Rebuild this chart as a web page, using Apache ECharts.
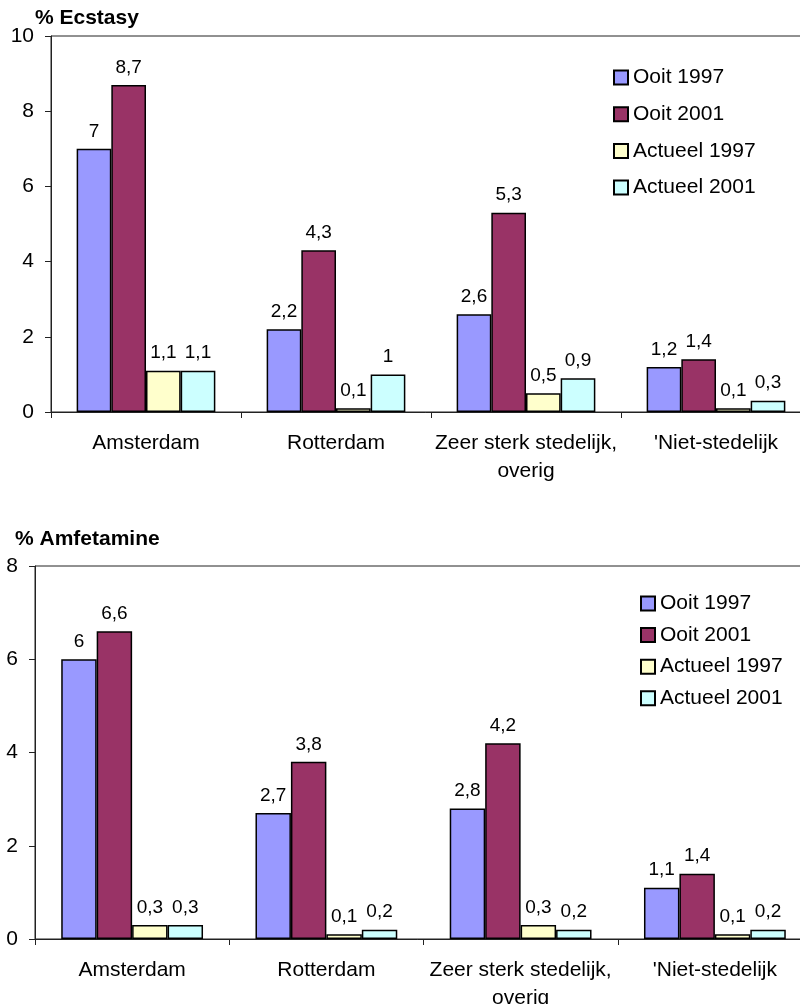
<!DOCTYPE html>
<html>
<head>
<meta charset="utf-8">
<script src="https://cdn.jsdelivr.net/npm/echarts@6/dist/echarts.min.js"></script>
<style>html,body{margin:0;padding:0;background:#fff;}#c{width:800px;height:1004px;}</style>
</head>
<body>
<div id="c"></div>
<script>
var categories = ['Amsterdam', 'Rotterdam', 'Zeer sterk stedelijk,\noverig', "'Niet-stedelijk"];
var seriesNames = ['Ooit 1997', 'Ooit 2001', 'Actueel 1997', 'Actueel 2001'];
var ecstasyOoit1997 = [7, 2.2, 2.6, 1.2];
var ecstasyOoit2001 = [8.7, 4.3, 5.3, 1.4];
var ecstasyActueel1997 = [1.1, 0.1, 0.5, 0.1];
var ecstasyActueel2001 = [1.1, 1, 0.9, 0.3];
var amfOoit1997 = [6, 2.7, 2.8, 1.1];
var amfOoit2001 = [6.6, 3.8, 4.2, 1.4];
var amfActueel1997 = [0.3, 0.1, 0.3, 0.1];
var amfActueel2001 = [0.3, 0.2, 0.2, 0.2];
var colors = ['#9999FF', '#993366', '#FFFFCC', '#CCFFFF'];

var FONT = '"Liberation Sans", Arial, sans-serif';
var AXC = '#222';

function mkSeries(name, data, idx, color) {
  return {
    name: name, type: 'bar', xAxisIndex: idx, yAxisIndex: idx,
    data: data, barGap: '0%', barCategoryGap: '27%',
    itemStyle: { color: color, borderColor: '#000', borderWidth: 1.5 },
    label: {
      show: true, position: 'top', distance: 8,
      fontFamily: FONT, fontSize: 19, color: '#000',
      formatter: function (p) { return String(p.value).replace('.', ','); }
    },
    emphasis: { disabled: true }
  };
}

function xAx(gi) {
  return {
    type: 'category', gridIndex: gi, data: categories,
    axisLine: { lineStyle: { color: AXC, width: 1 } },
    axisTick: { show: true, length: 6, lineStyle: { color: AXC } },
    axisLabel: { interval: 0, fontFamily: FONT, fontSize: 21, color: '#000', margin: 17, lineHeight: 28 }
  };
}
function yAx(gi, max) {
  return {
    type: 'value', gridIndex: gi, min: 0, max: max, interval: 2,
    splitLine: { show: false },
    axisLine: { show: true, lineStyle: { color: AXC, width: 1 } },
    axisTick: { show: true, length: 6, lineStyle: { color: AXC } },
    axisLabel: { fontFamily: FONT, fontSize: 21, color: '#000', margin: 17 }
  };
}
function legend(left, top, gap) {
  return {
    orient: 'vertical', left: left, top: top, itemGap: gap, padding: 0,
    icon: 'rect', itemWidth: 14, itemHeight: 14, itemTextGap: 5,
    data: seriesNames,
    textStyle: { fontFamily: FONT, fontSize: 21, color: '#000' },
    selectedMode: false
  };
}

var option = {
  animation: false,
  backgroundColor: '#fff',
  title: [
    { text: '% Ecstasy', left: 35, top: 8, padding: 0,
      textStyle: { fontFamily: FONT, fontSize: 21, fontWeight: 'bold', color: '#000' } },
    { text: '% Amfetamine', left: 15, top: 529, padding: 0,
      textStyle: { fontFamily: FONT, fontSize: 21, fontWeight: 'bold', color: '#000' } }
  ],
  legend: [legend(613, 67, 15.7), legend(640, 593, 10.6)],
  grid: [
    { left: 51, top: 36, width: 760, height: 376, show: true, borderColor: AXC, borderWidth: 1,
      containLabel: false, outerBoundsMode: 'none' },
    { left: 35, top: 566, width: 777, height: 373, show: true, borderColor: AXC, borderWidth: 1,
      containLabel: false, outerBoundsMode: 'none' }
  ],
  xAxis: [xAx(0), xAx(1)],
  yAxis: [yAx(0, 10), yAx(1, 8)],
  series: [
    mkSeries(seriesNames[0], ecstasyOoit1997, 0, colors[0]),
    mkSeries(seriesNames[1], ecstasyOoit2001, 0, colors[1]),
    mkSeries(seriesNames[2], ecstasyActueel1997, 0, colors[2]),
    mkSeries(seriesNames[3], ecstasyActueel2001, 0, colors[3]),
    mkSeries(seriesNames[0], amfOoit1997, 1, colors[0]),
    mkSeries(seriesNames[1], amfOoit2001, 1, colors[1]),
    mkSeries(seriesNames[2], amfActueel1997, 1, colors[2]),
    mkSeries(seriesNames[3], amfActueel2001, 1, colors[3])
  ]
};
var chart = echarts.init(document.getElementById('c'), null, { renderer: 'canvas' });
chart.setOption(option);
</script>
</body>
</html>
